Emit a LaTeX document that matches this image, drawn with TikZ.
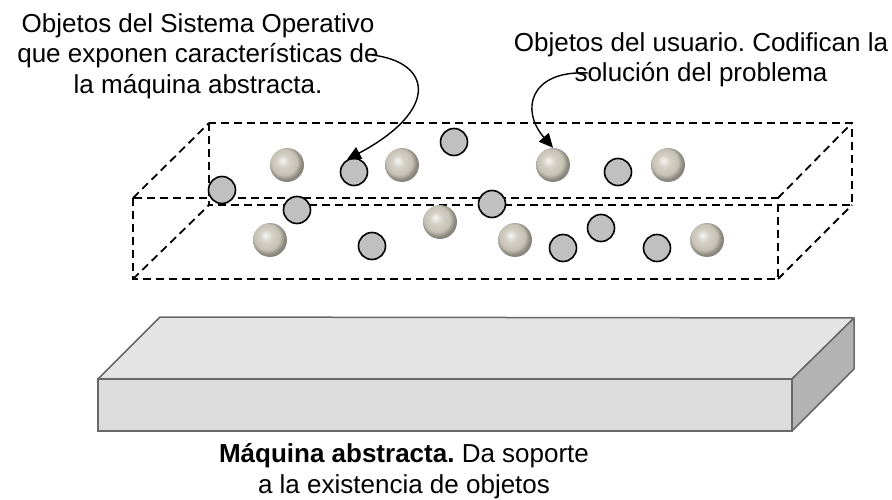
\documentclass[tikz,border=0pt]{standalone}
\usepackage{fontspec}
\setmainfont{Liberation Sans}
\usetikzlibrary{arrows.meta}

\definecolor{objgray}{RGB}{192,192,192}
\definecolor{stonecol}{RGB}{198,193,180}
\definecolor{slabtop}{RGB}{228,228,228}
\definecolor{slabfront}{RGB}{220,220,220}
\definecolor{slabside}{RGB}{179,179,179}
\definecolor{slabedge}{RGB}{104,104,104}

% rough pebble look for the user objects
\pgfdeclareradialshading{stone}{\pgfqpoint{-7bp}{7bp}}{%
  color(0bp)=(stonecol!15!white); color(9bp)=(stonecol!75!white);
  color(19bp)=(stonecol); color(25bp)=(stonecol!70!black);
  color(50bp)=(stonecol!70!black)}

\begin{document}
\begin{tikzpicture}[x=1pt,y=-1pt,
        obj/.style={draw,circle,fill=objgray,line width=1.6pt,minimum size=27pt,inner sep=0pt},
        stone/.style={circle,shading=stone,minimum size=34pt,inner sep=0pt},
        wire/.style={line width=1.8pt,dash pattern=on 8pt off 5pt},
        lbl/.style={align=center,inner sep=0pt,font=\fontsize{26}{30.5}\selectfont\frenchspacing},
        pointer/.style={line width=1.4pt,-{Triangle[length=14pt,width=13pt]}}]
    \useasboundingbox (0,0) rectangle (892,500);

    % dashed box: back face, front face, and the joining edges
    \draw[wire] (209,123) rectangle (852,205);
    \draw[wire] (133,198) rectangle (778,279);
    \draw[wire] (133,198) -- (209,123) (778,198) -- (852,123)
                (133,279) -- (209,205) (778,279) -- (852,205);

    % operating system objects
    \foreach \p [count=\i] in {(454,142),(354,172),(222,190),(297,210),(372,246),
                               (492,204),(618,172),(601,228),(563,248),(657,248)}
        \node[obj] (o\i) at \p {};

    % user objects
    \foreach \p [count=\i] in {(287,165),(402,165),(270,240),(440,222),
                               (553,165),(668,165),(515,240),(707,240)}
        \node[stone] (s\i) at \p {};

    % the abstract machine slab
    \filldraw[fill=slabtop,draw=slabedge,line width=1.5pt,line join=round]
        (98,379) -- (160,317) -- (854,318) -- (792,379) -- cycle;
    \filldraw[fill=slabfront,draw=slabedge,line width=1.5pt] (98,379) rectangle (792,431);
    \filldraw[fill=slabside,draw=slabedge,line width=1.5pt,line join=round]
        (792,379) -- (854,318) -- (854,369) -- (792,431) -- cycle;

    % labels
    \node[lbl] (osys) at (198,56) {Objetos del Sistema Operativo\\que exponen características de\\la máquina abstracta.};
    \node[lbl] (ouser) at (701,60) {Objetos del usuario. Codifican la\\solución del problema};
    \node[lbl] (base) at (404,471) {\textbf{Máquina abstracta.} Da soporte\\a la existencia de objetos};

    % pointers from the labels
    \coordinate (sysend) at (372,55);
    \coordinate (userend) at (588,73);
    \draw[pointer] (sysend) .. controls (432,62) and (440,110) .. (o2.120);
    \draw[pointer] (userend) .. controls (530,70) and (520,110) .. (s5.north);
\end{tikzpicture}
\end{document}
